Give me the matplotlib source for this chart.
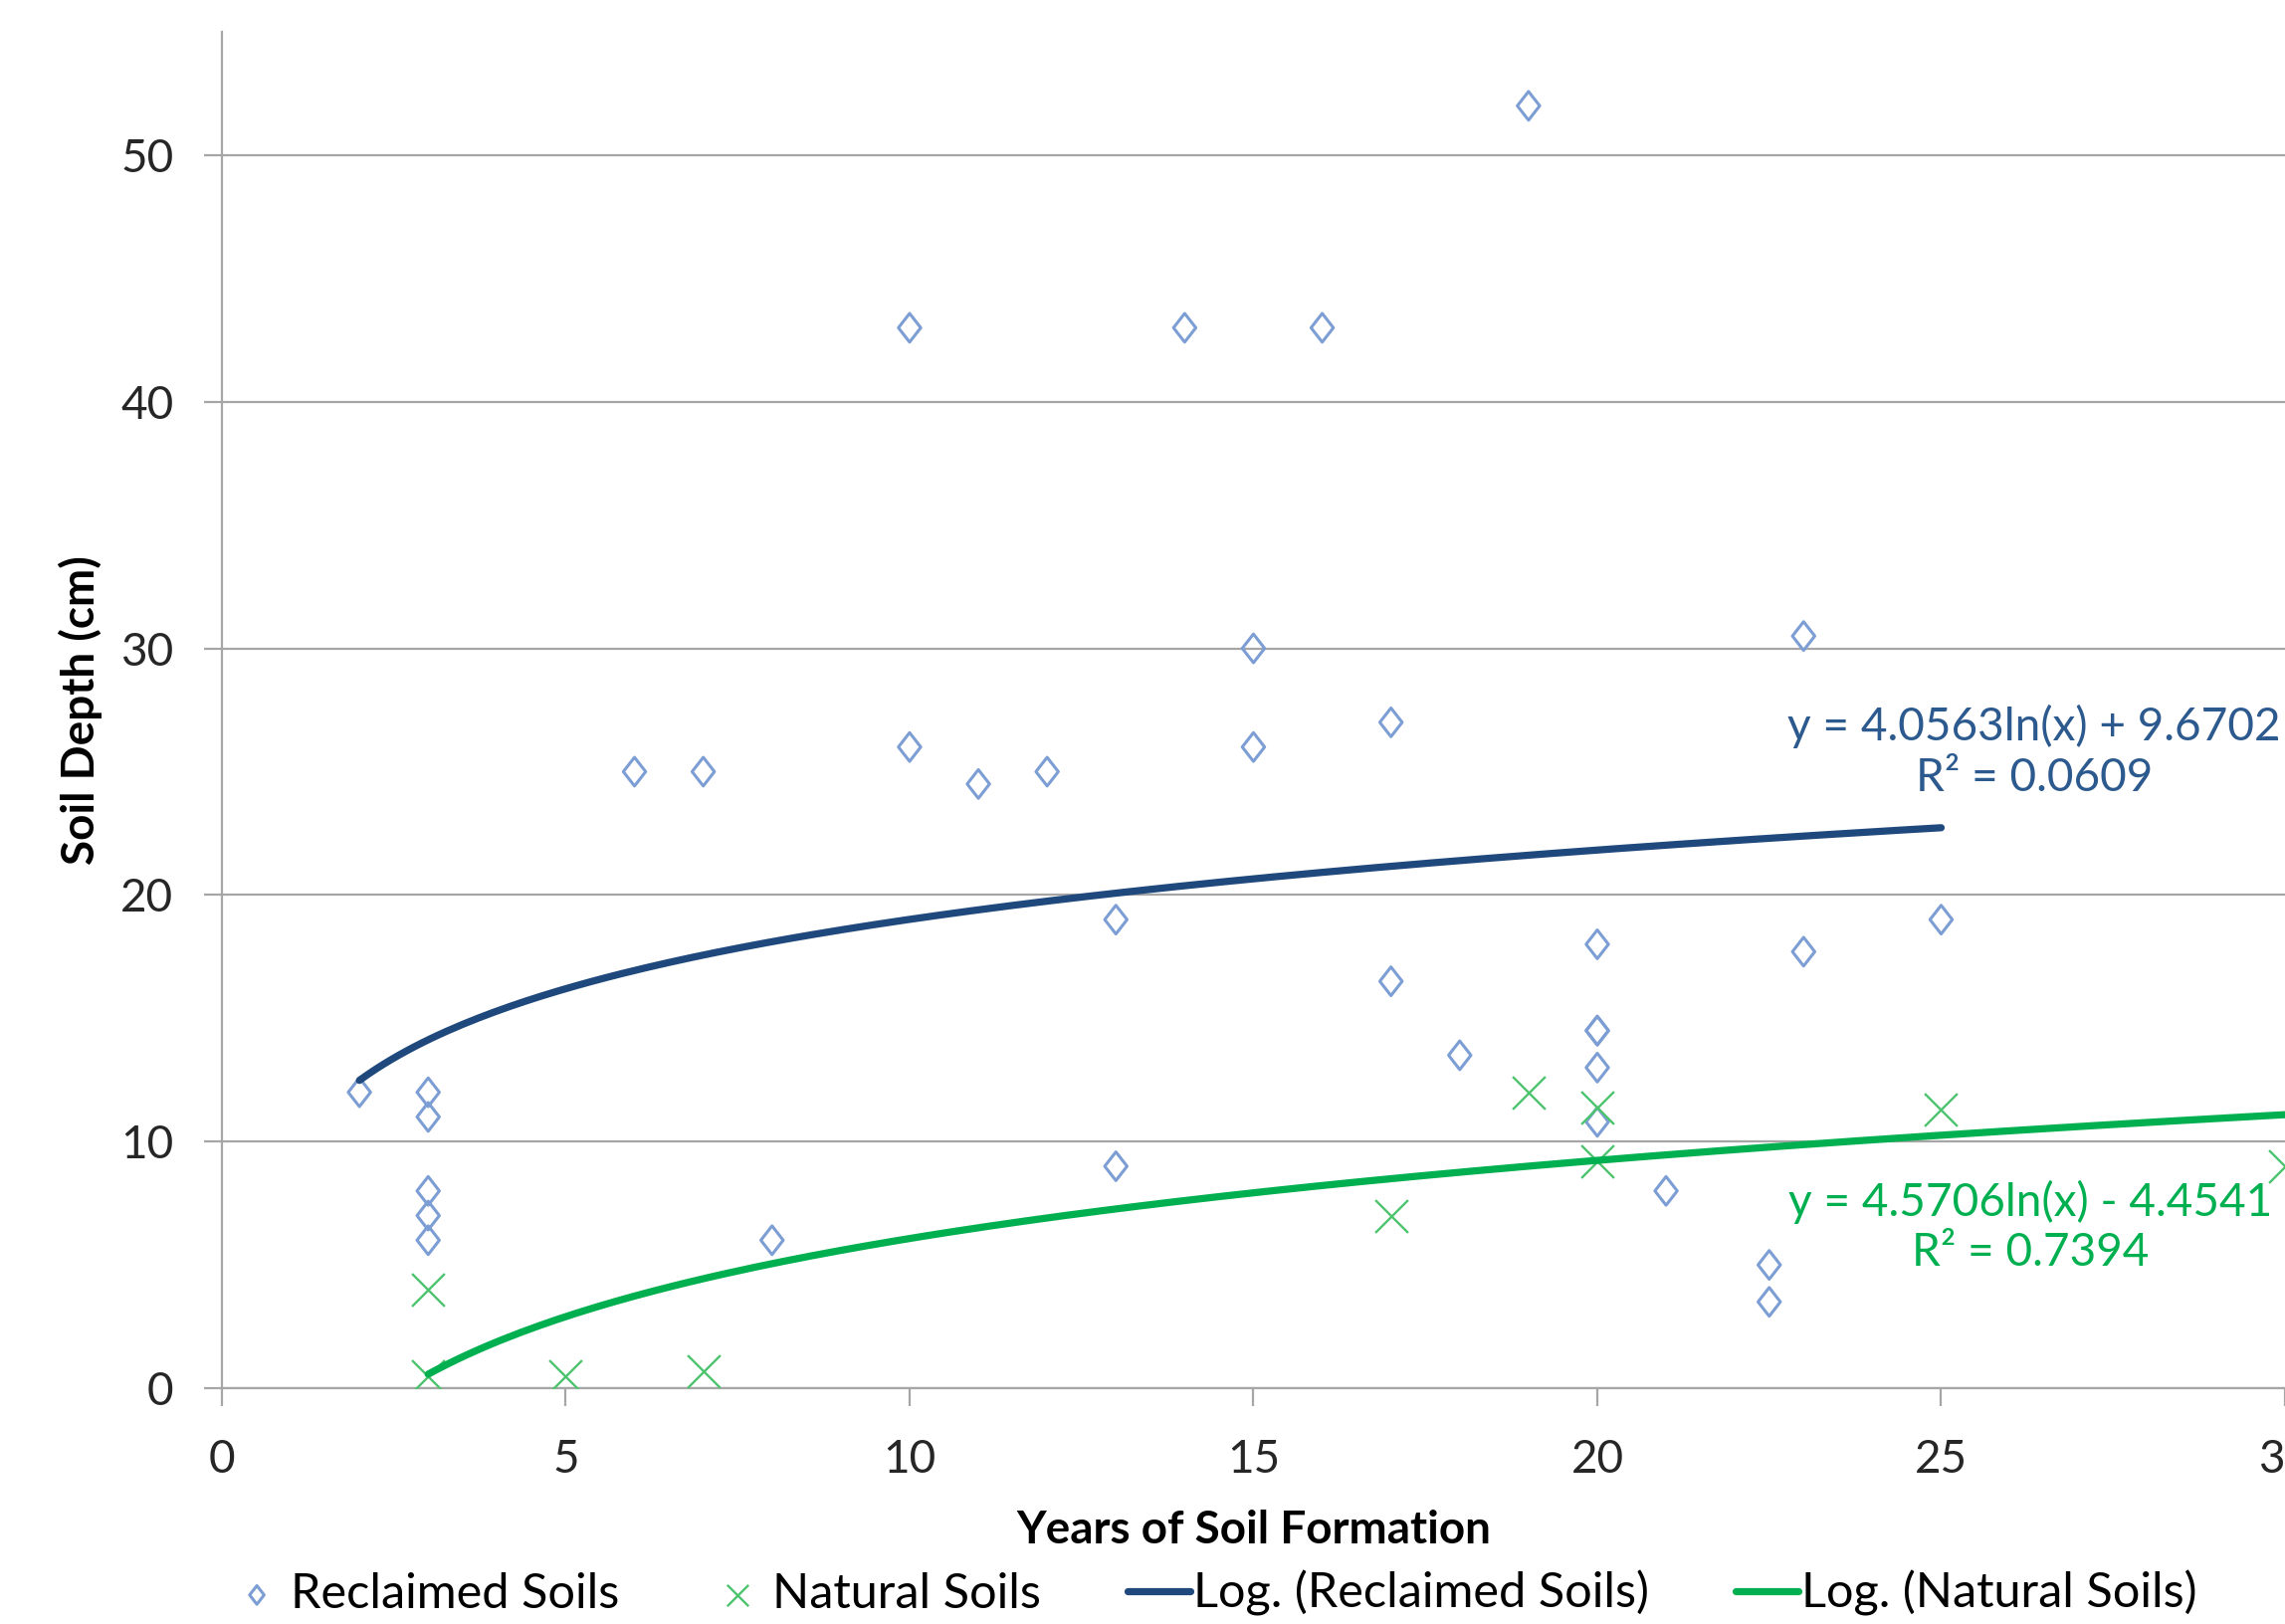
import numpy as np
import matplotlib
matplotlib.use("Agg")
import matplotlib.pyplot as plt
from matplotlib.path import Path

plt.rcParams['font.family'] = ['Lato', 'DejaVu Sans']

# data
reclaimed_x = [2, 3, 3, 3, 3, 3, 6, 7, 8, 10, 10, 11, 12, 13, 13, 14, 15, 15, 16,
               17, 17, 18, 19, 20, 20, 20, 20, 20, 21, 22.5, 22.5, 23, 23, 25]
reclaimed_y = [12, 12, 11, 8, 7, 6, 25, 25, 6, 43, 26, 24.5, 25, 19, 9, 43, 30, 26, 43,
               27, 16.5, 13.5, 52, 18, 14.5, 14.5, 13, 10.8, 8, 5, 3.5, 30.5, 17.7, 19]

natural_x = [3, 3, 5, 7, 17, 19, 20, 20, 25, 30]
natural_y = [4, 0.5, 0.5, 0.7, 7, 12, 11.4, 9.2, 11.3, 9]

# log trendlines as printed on the chart
rec_a, rec_b, rec_r2 = 4.0563, 9.6702, 0.0609
nat_a, nat_b, nat_r2 = 4.5706, -4.4541, 0.7394

x_ticks = [0, 5, 10, 15, 20, 25, 30]
y_ticks = [0, 10, 20, 30, 40, 50]

c_rec_pt = '#7C9ED4'
c_nat_pt = '#4CC46E'
c_rec_ln = '#1F497D'
c_nat_ln = '#00B050'
c_rec_txt = '#2C5A8E'
grid_c = '#A6A6A6'

diamond = Path([(0, 1), (0.78, 0), (0, -1), (-0.78, 0), (0, 1)],
               [Path.MOVETO, Path.LINETO, Path.LINETO, Path.LINETO, Path.CLOSEPOLY])

fig = plt.figure(figsize=(22.96, 16.32), dpi=100)
ax = fig.add_axes([0.0971, 0.1452, 0.9029, 0.8352])

ax.scatter(reclaimed_x, reclaimed_y, marker=diamond, s=430, facecolors='none',
           edgecolors=c_rec_pt, linewidths=2.2, zorder=3, label='Reclaimed Soils')
ax.scatter(natural_x, natural_y, marker='x', s=560, color=c_nat_pt,
           linewidths=1.7, zorder=3, label='Natural Soils')

xr = np.linspace(min(reclaimed_x), max(reclaimed_x), 200)
ax.plot(xr, rec_a * np.log(xr) + rec_b, color=c_rec_ln, lw=5.2, zorder=4,
        solid_capstyle='round', label='Log. (Reclaimed Soils)')
xn = np.linspace(min(natural_x), max(natural_x), 200)
ax.plot(xn, nat_a * np.log(xn) + nat_b, color=c_nat_ln, lw=5.2, zorder=4,
        solid_capstyle='round', label='Log. (Natural Soils)')

ax.text(26.35, 25.8, 'y = %.4fln(x) + %.4f\nR² = %.4f' % (rec_a, rec_b, rec_r2),
        color=c_rec_txt, fontsize=33, ha='center', va='center', multialignment='center',
        linespacing=1.25)
ax.text(26.3, 6.55, 'y = %.4fln(x) - %.4f\nR² = %.4f' % (nat_a, -nat_b, nat_r2),
        color=c_nat_ln, fontsize=33, ha='center', va='center', multialignment='center',
        linespacing=1.25)

ax.set_xlim(0, 30)
ax.set_ylim(0, 55)
ax.set_xticks(x_ticks)
ax.set_yticks(y_ticks)
ax.yaxis.grid(True, color=grid_c, lw=1.6)
ax.set_axisbelow(True)
for s in ['top', 'right']:
    ax.spines[s].set_visible(False)
for s in ['left', 'bottom']:
    ax.spines[s].set_color(grid_c)
    ax.spines[s].set_linewidth(1.6)
ax.tick_params(axis='both', direction='out', length=13, width=1.6, color=grid_c,
               labelsize=33, labelcolor='#262626')
ax.tick_params(axis='x', pad=24)
ax.tick_params(axis='y', pad=22)

ax.set_xlabel('Years of Soil Formation', fontsize=33, fontweight='bold')
ax.xaxis.set_label_coords(0.5, -0.105)
ax.xaxis.label.set_va('center')
ax.set_ylabel('Soil Depth (cm)', fontsize=33, fontweight='bold')
ax.yaxis.set_label_coords(-0.0687, 0.5)
ax.yaxis.label.set_va('center')

fig.legend(loc='center', bbox_to_anchor=(0.530, 0.019), ncol=4, frameon=False,
           fontsize=35, handlelength=1.3, handletextpad=0.05, columnspacing=1.8,
           markerscale=0.65)

fig.savefig('out.png', dpi=100)
